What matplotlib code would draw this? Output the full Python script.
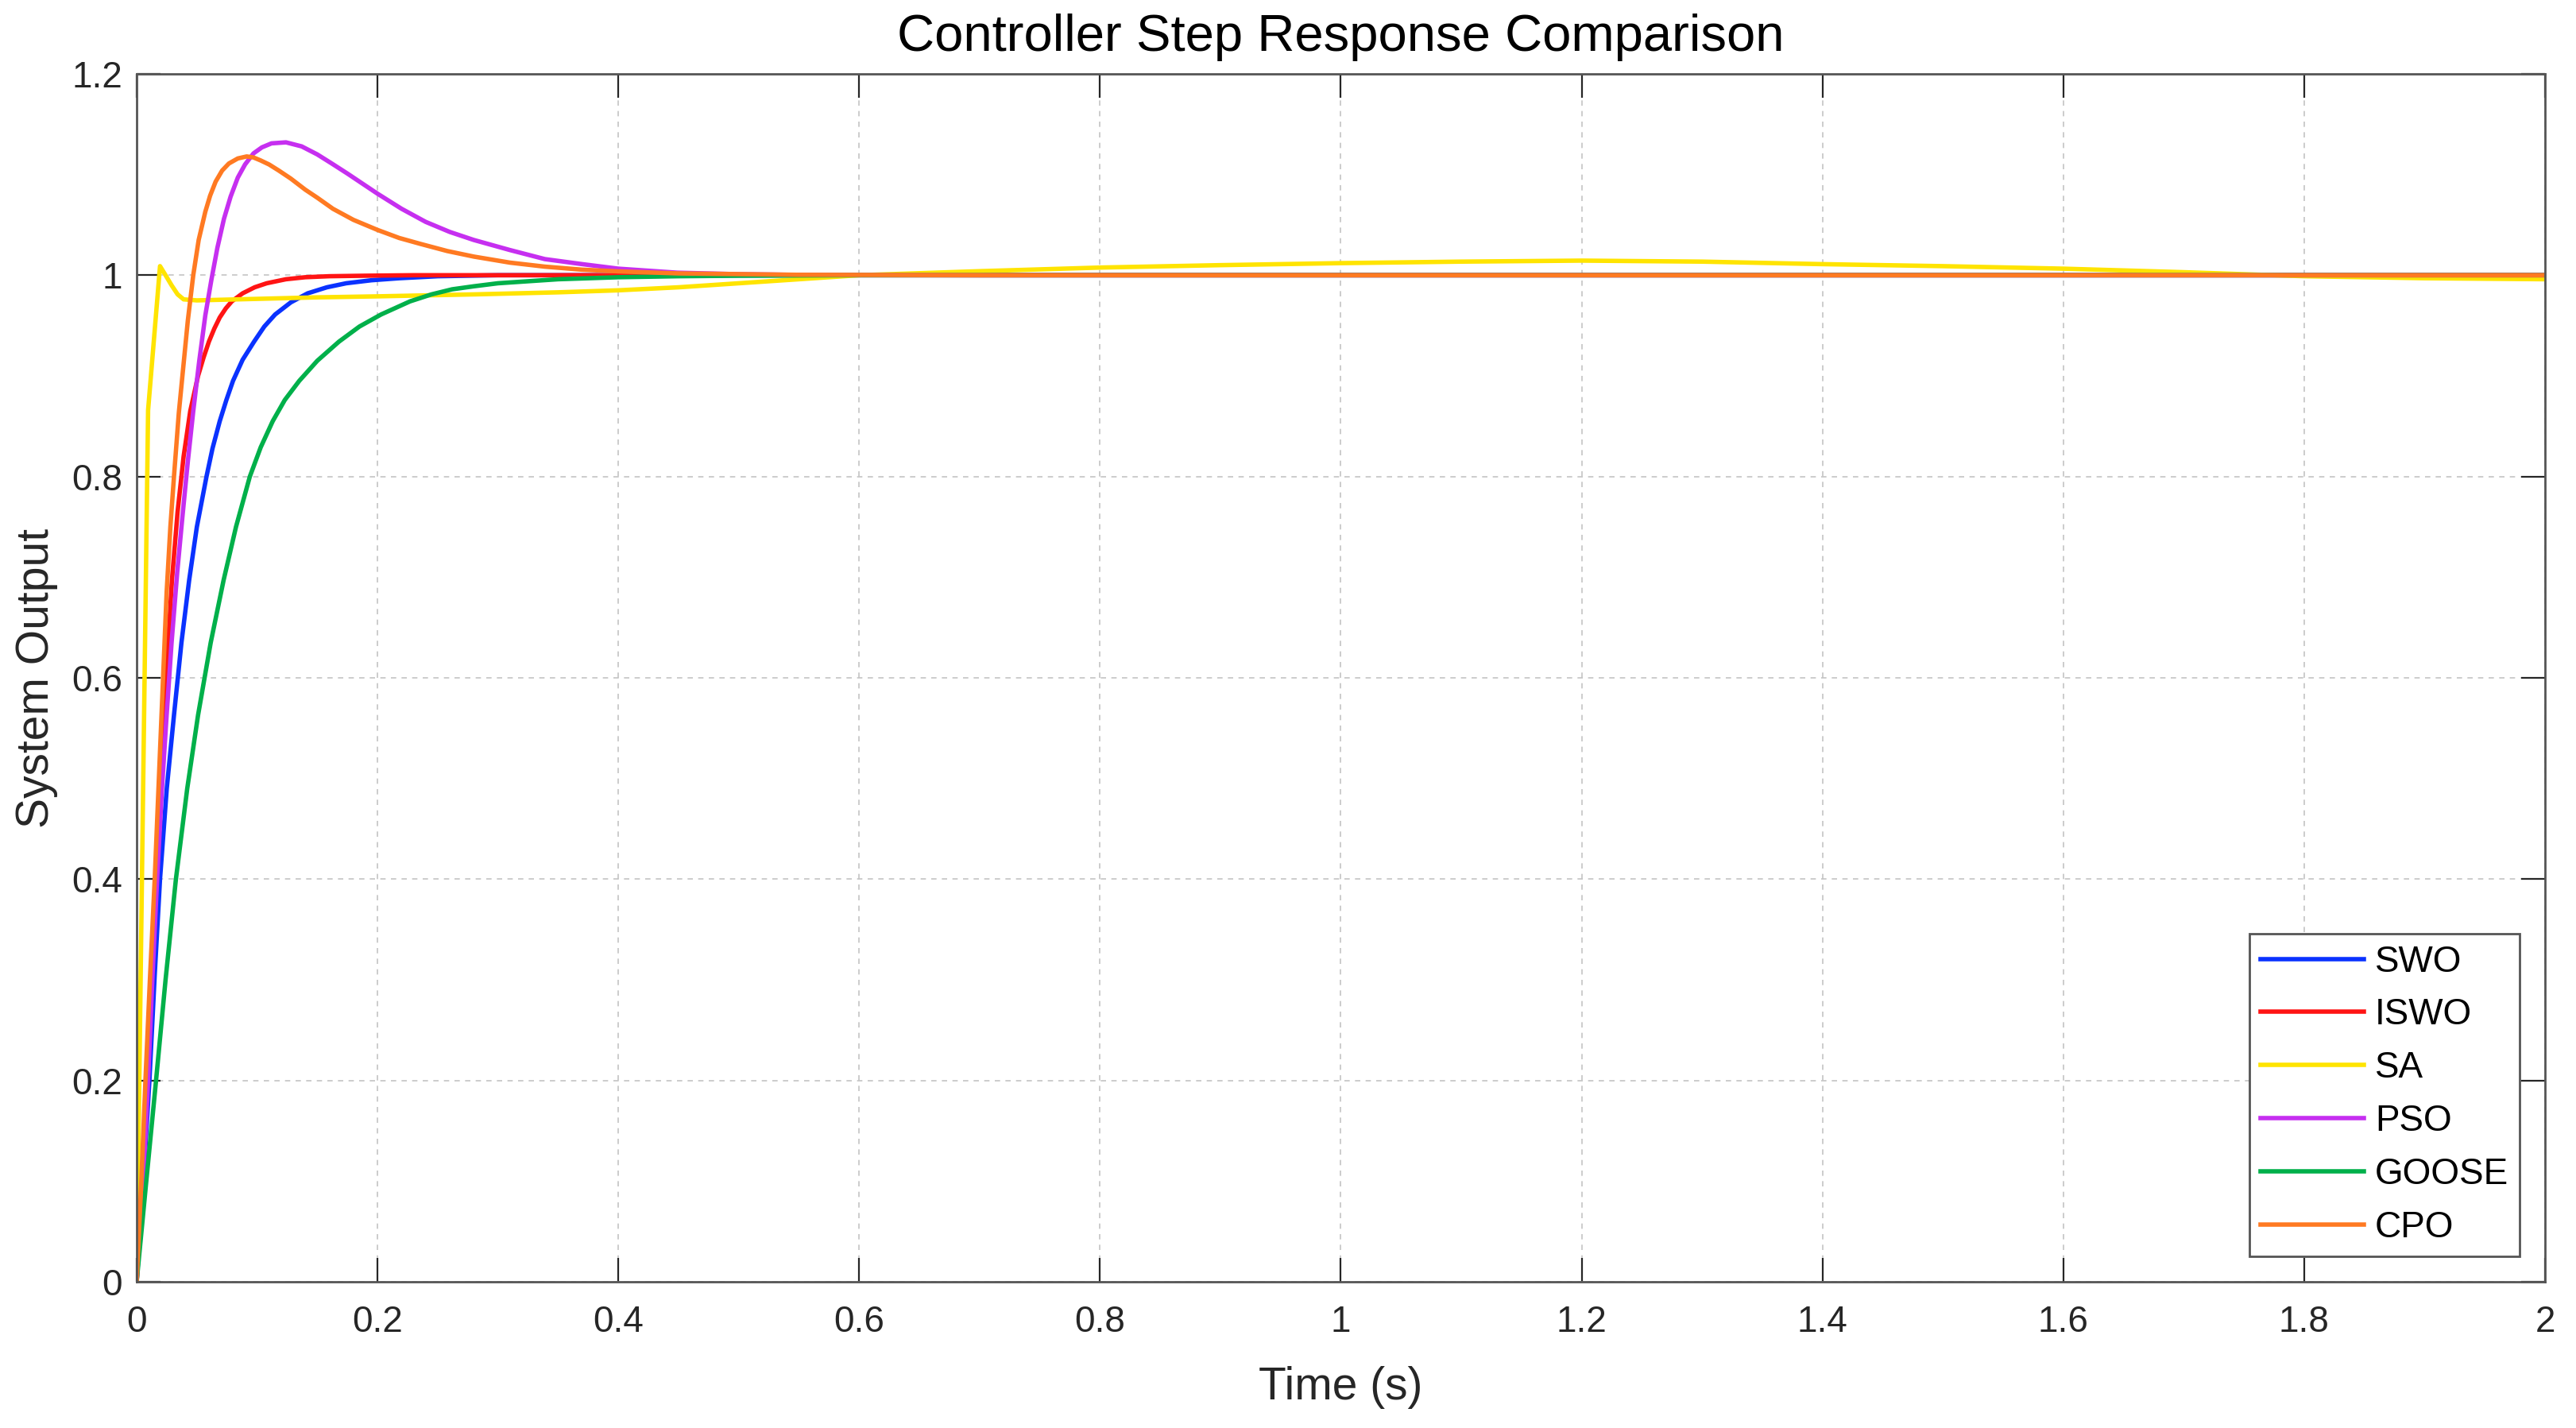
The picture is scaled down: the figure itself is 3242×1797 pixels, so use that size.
import numpy as np
import matplotlib
matplotlib.use("Agg")
import matplotlib.pyplot as plt

plt.rcParams['font.family'] = ['Liberation Sans', 'DejaVu Sans']

# step response traces
t_swo = [0, 0.005, 0.0106, 0.015, 0.0194, 0.025, 0.031, 0.0372, 0.0436, 0.050,
         0.058, 0.063, 0.069, 0.0745, 0.080, 0.088, 0.0975, 0.106, 0.115, 0.128,
         0.142, 0.158, 0.174, 0.195, 0.218, 0.25, 0.30, 2.0]
y_swo = [0, 0.09, 0.2, 0.305, 0.4, 0.49, 0.563, 0.635, 0.697, 0.75,
         0.80, 0.828, 0.855, 0.876, 0.895, 0.916, 0.934, 0.949, 0.961, 0.973,
         0.982, 0.988, 0.992, 0.995, 0.997, 0.999, 1.0, 1.0]

t_iswo = [0, 0.0045, 0.009, 0.0125, 0.016, 0.022, 0.0293, 0.034, 0.039, 0.0445,
          0.051, 0.0555, 0.060, 0.0645, 0.069, 0.074, 0.079, 0.088, 0.098, 0.108,
          0.124, 0.14, 0.16, 0.19, 0.23, 0.28, 2.0]
y_iswo = [0, 0.095, 0.2, 0.3, 0.4, 0.55, 0.697, 0.765, 0.82, 0.865,
          0.90, 0.918, 0.934, 0.947, 0.958, 0.967, 0.974, 0.982, 0.988, 0.992,
          0.996, 0.998, 0.999, 0.9995, 1.0, 1.0, 1.0]

t_sa = [0, 0.0095, 0.0194, 0.024, 0.029, 0.034, 0.039, 0.05, 0.1, 0.15, 0.2,
        0.282, 0.35, 0.4, 0.45, 0.5, 0.55, 0.6, 0.7, 0.8, 0.9, 1.0, 1.1, 1.2,
        1.3, 1.4, 1.5, 1.6, 1.7, 1.8, 1.9, 2.0]
y_sa = [0, 0.866, 1.009, 1.0, 0.99, 0.981, 0.976, 0.975, 0.9765, 0.978, 0.979,
        0.981, 0.983, 0.985, 0.988, 0.992, 0.996, 1.0, 1.004, 1.0076, 1.010, 1.012, 1.0135, 1.0145,
        1.0135, 1.011, 1.009, 1.0065, 1.003, 0.999, 0.997, 0.996]

t_pso = [0, 0.005, 0.0095, 0.013, 0.017, 0.021, 0.0249, 0.029, 0.0337, 0.038,
         0.0425, 0.047, 0.052, 0.057, 0.062, 0.067, 0.0725, 0.078, 0.084, 0.090,
         0.097, 0.104, 0.112, 0.124, 0.137, 0.15, 0.162, 0.175, 0.2, 0.22,
         0.24, 0.26, 0.28, 0.31, 0.339, 0.37, 0.4, 0.449, 0.5, 0.55, 0.7, 2.0]
y_pso = [0, 0.09, 0.2, 0.3, 0.4, 0.49, 0.563, 0.635, 0.705, 0.76,
         0.815, 0.865, 0.915, 0.96, 0.995, 1.027, 1.056, 1.078, 1.097, 1.110,
         1.121, 1.127, 1.131, 1.132, 1.128, 1.12, 1.111, 1.101, 1.081, 1.066,
         1.053, 1.043, 1.035, 1.025, 1.016, 1.011, 1.0065, 1.0025, 1.001, 1.0003, 1.0, 1.0]

t_goose = [0, 0.008, 0.0161, 0.024, 0.0326, 0.042, 0.051, 0.0615, 0.0722, 0.0825,
           0.094, 0.103, 0.113, 0.123, 0.135, 0.15, 0.168, 0.185, 0.203, 0.227,
           0.245, 0.262, 0.28, 0.30, 0.325, 0.35, 0.4, 0.45, 0.5, 0.6, 2.0]
y_goose = [0, 0.1, 0.2, 0.30, 0.4, 0.49, 0.563, 0.635, 0.697, 0.75,
           0.80, 0.829, 0.855, 0.876, 0.895, 0.915, 0.934, 0.949, 0.961, 0.974,
           0.981, 0.986, 0.989, 0.992, 0.994, 0.996, 0.998, 0.999, 0.9995, 1.0, 1.0]

t_cpo = [0, 0.0037, 0.0073, 0.011, 0.015, 0.0195, 0.0249, 0.028, 0.031, 0.035,
         0.038, 0.0425, 0.047, 0.0515, 0.057, 0.061, 0.0656, 0.071, 0.0766, 0.084,
         0.0914, 0.097, 0.103, 0.11, 0.118, 0.128, 0.14, 0.15, 0.163, 0.18,
         0.2, 0.218, 0.236, 0.258, 0.28, 0.31, 0.339, 0.37, 0.4, 0.45, 0.55, 0.7, 2.0]
y_cpo = [0, 0.095, 0.2, 0.3, 0.4, 0.53, 0.685, 0.75, 0.80, 0.863,
         0.90, 0.955, 1.0, 1.035, 1.063, 1.079, 1.093, 1.104, 1.111, 1.116,
         1.118, 1.117, 1.114, 1.110, 1.104, 1.096, 1.085, 1.077, 1.066, 1.055,
         1.045, 1.037, 1.031, 1.024, 1.0185, 1.0125, 1.0085, 1.0055, 1.0038, 1.0018, 1.0004, 1.0, 1.0]

labels = ['SWO', 'ISWO', 'SA', 'PSO', 'GOOSE', 'CPO']
colors = ['#0a32ff', '#ff1414', '#ffe400', '#c62ff0', '#00b04a', '#ff7a22']
series = [(t_swo, y_swo), (t_iswo, y_iswo), (t_sa, y_sa),
          (t_pso, y_pso), (t_goose, y_goose), (t_cpo, y_cpo)]

x_ticks = np.arange(0, 2.01, 0.2)
x_ticklabels = ['0', '0.2', '0.4', '0.6', '0.8', '1', '1.2', '1.4', '1.6', '1.8', '2']
y_ticks = np.arange(0, 1.21, 0.2)
y_ticklabels = ['0', '0.2', '0.4', '0.6', '0.8', '1', '1.2']

fig = plt.figure(figsize=(16.21, 8.985), dpi=200)
ax = fig.add_axes([0.05305, 0.1024, 0.93492, 0.84585])

for (t, y), lab, col in zip(series, labels, colors):
    ax.plot(t, y, color=col, linewidth=2.0, label=lab, solid_joinstyle='round')

ax.set_xlim(0, 2)
ax.set_ylim(0, 1.2)
ax.set_xticks(x_ticks)
ax.set_xticklabels(x_ticklabels)
ax.set_yticks(y_ticks)
ax.set_yticklabels(y_ticklabels)

ax.grid(True, color='#c4c4c4', linestyle=(0, (4, 4)), linewidth=0.6)
ax.set_axisbelow(True)
ax.tick_params(axis='both', which='major', direction='in', length=10.8, width=0.8,
               color='#262626', labelcolor='#262626', labelsize=16.5,
               top=True, right=True)
ax.tick_params(axis='x', pad=10.5)
ax.tick_params(axis='y', pad=6.5)
for sp in ax.spines.values():
    sp.set_color('#555555')
    sp.set_linewidth(1.0)

ax.set_xlabel('Time (s)', fontsize=20.5, color='#262626', labelpad=12)
ax.set_ylabel('System Output', fontsize=20.5, color='#262626', labelpad=6)
ax.set_title('Controller Step Response Comparison', fontsize=23.5, color='black', pad=10.5)

leg = ax.legend(loc='lower right', fontsize=16.5, handlelength=2.85, handletextpad=0.3,
                labelspacing=0.5, borderpad=0.3, borderaxespad=0.7,
                fancybox=False, framealpha=1)
leg.get_frame().set_edgecolor('#555555')
leg.get_frame().set_linewidth(1.0)

fig.savefig('out.png', dpi=200, facecolor='white')
